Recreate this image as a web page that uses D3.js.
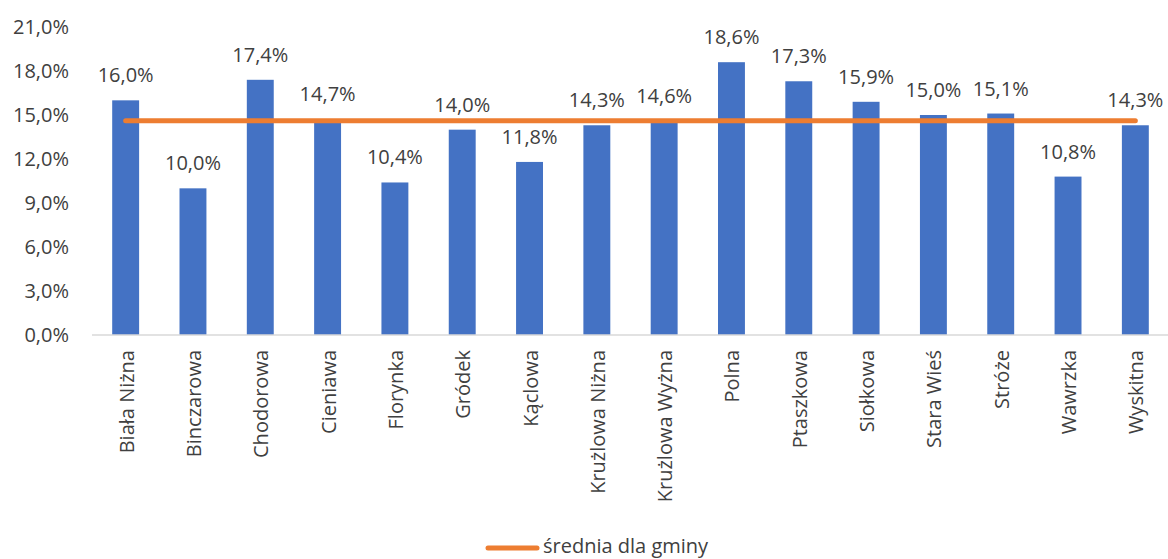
<!DOCTYPE html>
<head>
  <meta charset="utf-8">
  <title>średnia dla gminy</title>
  <style>
    body { margin: 0; background: #fff; }
    text { font-family: "Open Sans", sans-serif; font-weight: 400; fill: #404040; }
  </style>
</head>
<script src="https://d3js.org/d3.v7.min.js"></script>
<div id="my_dataviz"></div>
<script>
  // data
  const villages = ["Biała Niżna", "Binczarowa", "Chodorowa", "Cieniawa", "Florynka", "Gródek",
    "Kąclowa", "Krużlowa Niżna", "Krużlowa Wyżna", "Polna", "Ptaszkowa", "Siołkowa",
    "Stara Wieś", "Stróże", "Wawrzka", "Wyskitna"];
  const shares = [16.0, 10.0, 17.4, 14.7, 10.4, 14.0, 11.8, 14.3, 14.6, 18.6, 17.3, 15.9, 15.0, 15.1, 10.8, 14.3];
  const average = [14.6, 14.6, 14.6, 14.6, 14.6, 14.6, 14.6, 14.6, 14.6, 14.6, 14.6, 14.6, 14.6, 14.6, 14.6, 14.6];
  const yTicks = [0, 3, 6, 9, 12, 15, 18, 21];

  const W = 1168, H = 559;
  const margin = {top: 27, right: 0, bottom: 224, left: 92};

  const svg = d3.select("#my_dataviz")
    .append("svg")
      .attr("width", W)
      .attr("height", H);

  const fmt = v => d3.format(".1f")(v).replace(".", ",") + "%";

  const x = d3.scaleBand()
    .domain(villages)
    .range([margin.left, W - margin.right + 1])
    .paddingInner(0.6)
    .paddingOuter(0.3);

  const y = d3.scaleLinear()
    .domain([0, 21])
    .range([H - margin.bottom, margin.top]);

  // y tick labels (no axis line, no grid)
  svg.append("g")
    .selectAll("text")
    .data(yTicks)
    .join("text")
      .attr("x", 69)
      .attr("y", d => y(d))
      .attr("dy", "0.36em")
      .attr("text-anchor", "end")
      .style("font-size", "20px")
      .text(fmt);

  // bars
  svg.append("g")
    .selectAll("rect")
    .data(shares)
    .join("rect")
      .attr("x", (d, i) => x(villages[i]))
      .attr("y", d => y(d))
      .attr("width", x.bandwidth())
      .attr("height", d => y(0) - y(d))
      .attr("fill", "#4472C4");

  // x axis line
  svg.append("line")
    .attr("x1", margin.left)
    .attr("x2", W)
    .attr("y1", y(0))
    .attr("y2", y(0))
    .attr("stroke", "#D9D9D9")
    .attr("stroke-width", 1.5);

  // category labels, rotated
  svg.append("g")
    .selectAll("text")
    .data(villages)
    .join("text")
      .attr("transform", d => `translate(${x(d) + x.bandwidth() / 2 + 8},${y(0) + 15}) rotate(-90)`)
      .attr("text-anchor", "end")
      .style("font-size", "20px")
      .text(d => d);

  // average line
  const line = d3.line()
    .x((d, i) => x(villages[i]) + x.bandwidth() / 2)
    .y(d => y(d));
  svg.append("path")
    .datum(average)
    .attr("d", line)
    .attr("fill", "none")
    .attr("stroke", "#ED7D31")
    .attr("stroke-width", 5)
    .attr("stroke-linecap", "round");

  // value labels
  svg.append("g")
    .selectAll("text")
    .data(shares)
    .join("text")
      .attr("x", (d, i) => x(villages[i]) + x.bandwidth() / 2)
      .attr("y", d => y(d) - 18)
      .attr("text-anchor", "middle")
      .style("font-size", "20px")
      .text(fmt);

  // legend
  const lg = svg.append("g");
  lg.append("line")
    .attr("x1", 488).attr("x2", 537)
    .attr("y1", 548).attr("y2", 548)
    .attr("stroke", "#ED7D31")
    .attr("stroke-width", 5)
    .attr("stroke-linecap", "round");
  lg.append("text")
    .attr("x", 543)
    .attr("y", 553)
    .style("font-size", "20px")
    .text("średnia dla gminy");
</script>
